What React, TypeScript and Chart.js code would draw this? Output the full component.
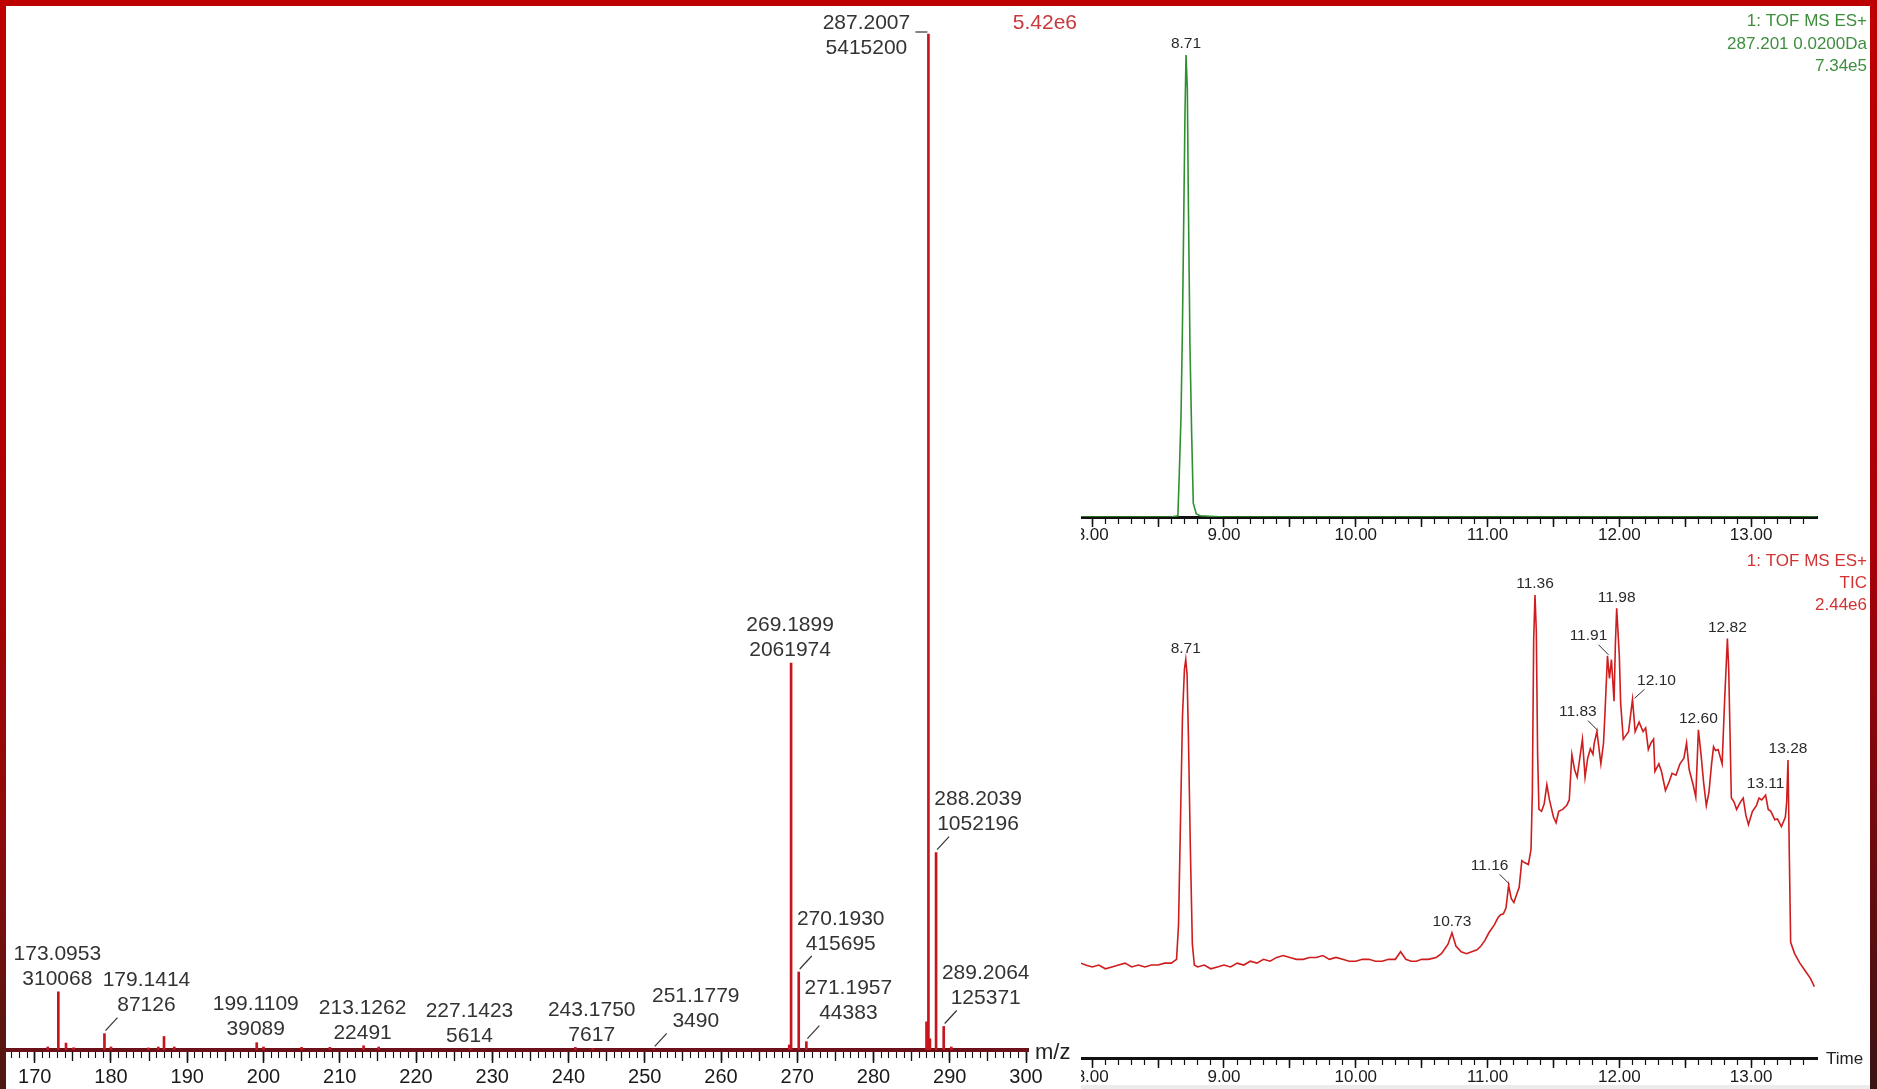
import React, { useEffect, useRef } from 'react';
import { Chart, registerables } from 'chart.js';

Chart.register(...registerables);

const FONT = '"Liberation Sans", Arial, Helvetica, sans-serif';

// ---------------- Mass spectrum (left panel) ----------------
const msLabeledMz = [173.0953, 179.1414, 199.1109, 213.1262, 227.1423, 243.175, 251.1779, 269.1899, 270.193, 271.1957, 287.2007, 288.2039, 289.2064];
const msLabeledIntensity = [310068, 87126, 39089, 22491, 5614, 7617, 3490, 2061974, 415695, 44383, 5415200, 1052196, 125371];
const msLabelPlacement = ['above', 'leader', 'above', 'above', 'above', 'above', 'leader', 'above', 'leader', 'leader', 'left', 'leader', 'leader'];
const msMinorMz = [171.7, 174.1, 175.1, 180.0, 184.9, 186.2, 186.95, 188.3, 200.0, 205.0, 208.7, 215.1, 240.9, 268.95, 286.95, 287.4, 290.2];
const msMinorIntensity = [16000, 37000, 12000, 16000, 11000, 16000, 72000, 16000, 16000, 14000, 14000, 16000, 14000, 27000, 150000, 60000, 16000];
const msMajorTicks = [170, 180, 190, 200, 210, 220, 230, 240, 250, 260, 270, 280, 290, 300];
const msMidTicks = Array.from({ length: 27 }, (_, i) => 170 + 5 * i);
const msMinorTicks = Array.from({ length: 134 }, (_, i) => 167 + i);
const msBasePeakText = '5.42e6';
const msAxisTitle = 'm/z';

// ---------------- Extracted ion chromatogram (top right) ----------------
const xicTime = [7.915, 8.3, 8.6, 8.65, 8.661, 8.674, 8.684, 8.691, 8.704, 8.712, 8.722, 8.729, 8.742, 8.755, 8.767, 8.79, 8.82, 9.0, 10.0, 11.0, 12.0, 13.0, 13.5];
const xicIntensity = [0, 0, 0, 2000, 70000, 160000, 290000, 410000, 640000, 734000, 680000, 515000, 270000, 130000, 22000, 5000, 2000, 0, 0, 0, 0, 0, 0];
const xicPeakTimes = [8.712];
const xicPeakLabels = ['8.71'];
const xicHeader = ['1: TOF MS ES+', '287.201 0.0200Da', '7.34e5'];

// ---------------- Total ion chromatogram (bottom right) ----------------
const ticTime = [
  7.915, 7.95, 8.0, 8.05, 8.1, 8.15, 8.2, 8.25, 8.3, 8.35, 8.4, 8.45, 8.5, 8.55, 8.6, 8.64, 8.655, 8.67, 8.685, 8.7,
  8.71, 8.72, 8.73, 8.745, 8.76, 8.775, 8.8, 8.85, 8.9, 8.95, 9.0, 9.05, 9.1, 9.15, 9.2, 9.25, 9.3, 9.35, 9.4, 9.45,
  9.5, 9.55, 9.6, 9.65, 9.7, 9.75, 9.8, 9.85, 9.9, 9.95, 10.0, 10.05, 10.1, 10.15, 10.2, 10.25, 10.3, 10.34, 10.38, 10.42,
  10.46, 10.5, 10.55, 10.61, 10.65, 10.68, 10.7, 10.73, 10.76, 10.8, 10.84, 10.88, 10.92, 10.95, 10.98, 11.01, 11.05, 11.08, 11.1, 11.12,
  11.14, 11.16, 11.18, 11.2, 11.22, 11.24, 11.26, 11.28, 11.31, 11.33, 11.34, 11.35, 11.36, 11.37, 11.38, 11.39, 11.41, 11.43, 11.45, 11.47,
  11.48, 11.5, 11.52, 11.54, 11.57, 11.6, 11.62, 11.64, 11.66, 11.68, 11.7, 11.72, 11.74, 11.76, 11.78, 11.8, 11.81, 11.83, 11.86, 11.88,
  11.89, 11.91, 11.925, 11.94, 11.96, 11.97, 11.98, 12.0, 12.01, 12.03, 12.05, 12.07, 12.1, 12.12, 12.15, 12.18, 12.2, 12.22, 12.24, 12.26,
  12.27, 12.3, 12.32, 12.35, 12.38, 12.4, 12.43, 12.46, 12.49, 12.51, 12.53, 12.56, 12.58, 12.6, 12.62, 12.64, 12.66, 12.68, 12.7, 12.715,
  12.73, 12.75, 12.78, 12.8, 12.82, 12.83, 12.85, 12.87, 12.89, 12.92, 12.94, 12.96, 12.98, 13.01, 13.04, 13.06, 13.08, 13.11, 13.13, 13.15,
  13.18, 13.2, 13.23, 13.26, 13.27, 13.28, 13.29, 13.3, 13.33, 13.37, 13.41, 13.45, 13.48,
];
const ticIntensityMillions = [
  0.50, 0.49, 0.48, 0.49, 0.47, 0.48, 0.49, 0.50, 0.48, 0.49, 0.48, 0.49, 0.49, 0.50, 0.50, 0.52, 0.70, 1.25, 1.80, 2.05,
  2.10, 2.02, 1.70, 1.10, 0.60, 0.49, 0.48, 0.49, 0.47, 0.48, 0.49, 0.48, 0.50, 0.49, 0.51, 0.50, 0.52, 0.51, 0.53, 0.54,
  0.53, 0.52, 0.52, 0.53, 0.53, 0.54, 0.52, 0.53, 0.52, 0.51, 0.51, 0.52, 0.52, 0.51, 0.51, 0.52, 0.52, 0.56, 0.52, 0.51,
  0.51, 0.52, 0.52, 0.53, 0.55, 0.58, 0.60, 0.66, 0.59, 0.56, 0.55, 0.56, 0.57, 0.59, 0.62, 0.66, 0.70, 0.74, 0.755, 0.76,
  0.79, 0.91, 0.84, 0.82, 0.86, 0.90, 1.04, 1.03, 1.02, 1.10, 1.40, 2.20, 2.44, 2.25, 1.60, 1.31, 1.30, 1.34, 1.44, 1.36,
  1.33, 1.27, 1.24, 1.30, 1.31, 1.33, 1.36, 1.60, 1.52, 1.48, 1.58, 1.68, 1.48, 1.58, 1.63, 1.60, 1.66, 1.72, 1.55, 1.66,
  1.80, 2.12, 2.00, 2.10, 1.88, 2.18, 2.37, 2.12, 1.87, 1.68, 1.70, 1.72, 1.89, 1.72, 1.77, 1.72, 1.74, 1.625, 1.66, 1.68,
  1.51, 1.55, 1.51, 1.41, 1.46, 1.50, 1.49, 1.55, 1.58, 1.66, 1.52, 1.44, 1.375, 1.73, 1.60, 1.45, 1.33, 1.40, 1.55, 1.64,
  1.62, 1.625, 1.55, 1.90, 2.21, 2.05, 1.37, 1.35, 1.31, 1.35, 1.37, 1.28, 1.23, 1.30, 1.33, 1.37, 1.36, 1.385, 1.31, 1.30,
  1.255, 1.26, 1.22, 1.27, 1.35, 1.57, 1.07, 0.61, 0.55, 0.50, 0.46, 0.42, 0.376,
];
const ticPeakTimes = [8.71, 10.73, 11.16, 11.36, 11.83, 11.91, 11.98, 12.1, 12.6, 12.82, 13.11, 13.28];
const ticPeakLabels = ['8.71', '10.73', '11.16', '11.36', '11.83', '11.91', '11.98', '12.10', '12.60', '12.82', '13.11', '13.28'];
const ticLabelPlacement = ['above', 'above', 'leaderLeft', 'above', 'leaderLeft', 'leaderLeft', 'above', 'leaderRight', 'above', 'above', 'above', 'above'];
const ticHeader = ['1: TOF MS ES+', 'TIC', '2.44e6'];

const timeMajorTicks = [8.0, 8.5, 9.0, 9.5, 10.0, 10.5, 11.0, 11.5, 12.0, 12.5, 13.0];
const timeMinorTicks = Array.from({ length: 55 }, (_, i) => +(8 + i * 0.1).toFixed(1));
const timeAxisTitle = 'Time';

// ---------------- geometry ----------------
const MS_W = 1081;
const MS_H = 1089;
const CH_LEFT = 1081;
const CH_CANVAS_SHIFT = 30;
const CH_WRAP_W = 789;
const CH_CANVAS_W = CH_WRAP_W + CH_CANVAS_SHIFT;
const XIC_H = 548;
const TIC_H = 541;

function tickOnlyAxis(min: number, max: number, values: number[], tickLength: number, tickWidth: number) {
  return {
    axis: 'x',
    type: 'linear',
    position: { y: 0 },
    min,
    max,
    offset: false,
    afterBuildTicks: (s: any) => {
      s.ticks = values.filter((v) => v >= min && v <= max).map((v) => ({ value: v }));
    },
    grid: { drawOnChartArea: false, drawTicks: true, tickLength, tickWidth, tickColor: '#111', offset: false },
    border: { display: false },
    ticks: { display: false },
  };
}

function drawText(ctx: CanvasRenderingContext2D, s: string, x: number, y: number) {
  ctx.fillText(s, x, y);
}
function drawSeg(ctx: CanvasRenderingContext2D, x1: number, y1: number, x2: number, y2: number) {
  ctx.beginPath();
  ctx.moveTo(x1, y1);
  ctx.lineTo(x2, y2);
  ctx.stroke();
}

function buildMsConfig(): any {
  const min = 166.23;
  const max = 300.26;
  const points = msLabeledMz
    .map((x, i) => ({ x, y: msLabeledIntensity[i] }))
    .concat(msMinorMz.map((x, i) => ({ x, y: msMinorIntensity[i] })));
  const labelPlugin = {
    id: 'msLabels',
    afterDraw(chart: any) {
      const ctx = chart.ctx as CanvasRenderingContext2D;
      const xs = chart.scales.x;
      const ys = chart.scales.y;
      const area = chart.chartArea;
      ctx.save();
      ctx.font = `21px ${FONT}`;
      ctx.fillStyle = '#333';
      ctx.strokeStyle = '#333';
      ctx.lineWidth = 1.2;
      ctx.textAlign = 'center';
      ctx.textBaseline = 'middle';
      msLabeledMz.forEach((mz, i) => {
        const px = xs.getPixelForValue(mz);
        const py = ys.getPixelForValue(msLabeledIntensity[i]);
        const t1 = mz.toFixed(4);
        const t2 = String(msLabeledIntensity[i]);
        const p = msLabelPlacement[i];
        if (p === 'above') {
          drawText(ctx, t1, px - 1, py - 38);
          drawText(ctx, t2, px - 1, py - 13);
        } else if (p === 'leader') {
          drawText(ctx, t1, px + 42, py - 53);
          drawText(ctx, t2, px + 42, py - 28);
          drawSeg(ctx, px + 1, py - 3, px + 13, py - 16);
        } else {
          drawText(ctx, t1, px - 62, py - 11);
          drawText(ctx, t2, px - 62, py + 14);
          drawSeg(ctx, px - 13, py - 2, px - 1, py - 2);
        }
      });
      ctx.fillStyle = '#c8383c';
      ctx.textAlign = 'right';
      drawText(ctx, msBasePeakText, chart.width - 4, 23);
      ctx.fillStyle = '#222';
      ctx.textAlign = 'left';
      ctx.font = `22px ${FONT}`;
      drawText(ctx, msAxisTitle, area.right + 7, area.bottom + 3);
      ctx.restore();
    },
  };
  return {
    type: 'bar',
    data: {
      datasets: [
        {
          data: points,
          backgroundColor: '#c8141c',
          borderWidth: 0,
          barThickness: 2,
          grouped: false,
        },
      ],
    },
    options: {
      responsive: false,
      maintainAspectRatio: false,
      animation: false,
      events: [],
      layout: { padding: { left: 6, right: MS_W - 1028, top: 20, bottom: 0 } },
      plugins: { legend: { display: false }, tooltip: { enabled: false } },
      scales: {
        x: {
          type: 'linear',
          position: 'bottom',
          min,
          max,
          offset: false,
          afterBuildTicks: (s: any) => {
            s.ticks = msMajorTicks.map((v) => ({ value: v }));
          },
          afterFit: (s: any) => {
            s.height = MS_H - 1050;
          },
          grid: { drawOnChartArea: false, drawTicks: true, tickLength: 13, tickWidth: 1.5, tickColor: '#111', offset: false },
          border: { display: true, color: '#6a1119', width: 4 },
          ticks: {
            autoSkip: false,
            maxRotation: 0,
            padding: 4,
            color: '#1a1a1a',
            font: { family: FONT, size: 20, lineHeight: 1 },
            callback: (v: any) => String(v),
          },
        },
        xMid: tickOnlyAxis(min, max, msMidTicks, 11, 1.3),
        xMinor: tickOnlyAxis(min, max, msMinorTicks, 8, 1.1),
        y: { display: false, min: 0, max: 5489800 },
      },
    },
    plugins: [labelPlugin],
  };
}

function buildChromConfig(opts: {
  times: number[];
  values: number[];
  yMax: number;
  color: string;
  textColor: string;
  canvasH: number;
  axisY: number;
  padTop: number;
  labelPad: number;
  peakTimes: number[];
  peakLabels: string[];
  placements: string[];
  header: string[];
  headerY: number[];
  showTime: boolean;
}): any {
  const min = 7.915;
  const max = 13.5;
  const points = opts.times.map((x, i) => ({ x, y: opts.values[i] }));
  const labelPlugin = {
    id: 'chromLabels',
    afterDraw(chart: any) {
      const ctx = chart.ctx as CanvasRenderingContext2D;
      const xs = chart.scales.x;
      const ys = chart.scales.y;
      const area = chart.chartArea;
      ctx.save();
      ctx.font = `15.5px ${FONT}`;
      ctx.fillStyle = '#2a2a2a';
      ctx.strokeStyle = '#2a2a2a';
      ctx.lineWidth = 1;
      ctx.textAlign = 'center';
      ctx.textBaseline = 'middle';
      opts.peakTimes.forEach((t, i) => {
        const idx = opts.times.indexOf(t);
        const v = opts.values[idx];
        const px = xs.getPixelForValue(t);
        const py = ys.getPixelForValue(v);
        const p = opts.placements[i];
        if (p === 'leaderLeft') {
          drawText(ctx, opts.peakLabels[i], px - 19, py - 20);
          drawSeg(ctx, px - 9, py - 11, px + 1, py - 1);
        } else if (p === 'leaderRight') {
          drawText(ctx, opts.peakLabels[i], px + 24, py - 19);
          drawSeg(ctx, px + 12, py - 10, px + 2, py - 1);
        } else {
          drawText(ctx, opts.peakLabels[i], px, py - 11);
        }
      });
      ctx.font = `17px ${FONT}`;
      ctx.fillStyle = opts.textColor;
      ctx.textAlign = 'right';
      opts.header.forEach((s, i) => drawText(ctx, s, chart.width - 3, opts.headerY[i]));
      if (opts.showTime) {
        ctx.fillStyle = '#222';
        ctx.textAlign = 'left';
        drawText(ctx, timeAxisTitle, area.right + 9, area.bottom + 1);
      }
      ctx.restore();
    },
  };
  return {
    type: 'line',
    data: {
      datasets: [
        {
          data: points,
          borderColor: opts.color,
          borderWidth: 1.6,
          pointRadius: 0,
          tension: 0,
          fill: false,
        },
      ],
    },
    options: {
      responsive: false,
      maintainAspectRatio: false,
      animation: false,
      events: [],
      layout: { padding: { left: CH_CANVAS_SHIFT, right: CH_CANVAS_W - 766, top: opts.padTop, bottom: 0 } },
      plugins: { legend: { display: false }, tooltip: { enabled: false } },
      scales: {
        x: {
          type: 'linear',
          position: 'bottom',
          min,
          max,
          offset: false,
          afterBuildTicks: (s: any) => {
            s.ticks = timeMajorTicks.map((v) => ({ value: v }));
          },
          afterFit: (s: any) => {
            s.height = opts.canvasH - opts.axisY;
          },
          grid: { drawOnChartArea: false, drawTicks: true, tickLength: 10, tickWidth: 1.5, tickColor: '#111' },
          border: { display: true, color: '#111', width: 3 },
          ticks: {
            autoSkip: false,
            maxRotation: 0,
            padding: opts.labelPad,
            color: '#1a1a1a',
            font: { family: FONT, size: 17, lineHeight: 1 },
            callback: (v: any) => (Number.isInteger(+v) ? (+v).toFixed(2) : ''),
          },
        },
        xMinor: tickOnlyAxis(min, max, timeMinorTicks, 7, 1.2),
        y: { display: false, min: 0, max: opts.yMax },
      },
    },
    plugins: [labelPlugin],
  };
}

function ChartCanvas({ width, height, build, style }: { width: number; height: number; build: () => any; style: React.CSSProperties }) {
  const ref = useRef<HTMLCanvasElement | null>(null);
  useEffect(() => {
    if (!ref.current) return;
    const chart = new Chart(ref.current, build());
    return () => chart.destroy();
  }, []);
  return <canvas ref={ref} width={width} height={height} style={{ position: 'absolute', width, height, ...style }} />;
}

export default function App() {
  return (
    <div style={{ position: 'fixed', left: 0, top: 0, width: 1877, height: 1089, background: '#fff', overflow: 'hidden' }}>
      <ChartCanvas width={MS_W} height={MS_H} build={buildMsConfig} style={{ left: 0, top: 0 }} />
      <div style={{ position: 'absolute', left: CH_LEFT, top: 0, width: CH_WRAP_W, height: XIC_H, overflow: 'hidden' }}>
        <ChartCanvas
          width={CH_CANVAS_W}
          height={XIC_H}
          style={{ left: -CH_CANVAS_SHIFT, top: 0 }}
          build={() =>
            buildChromConfig({
              times: xicTime,
              values: xicIntensity,
              yMax: 757800,
              color: '#2f902f',
              textColor: '#3e8e3e',
              canvasH: XIC_H,
              axisY: 517,
              padTop: 40,
              labelPad: 0,
              peakTimes: xicPeakTimes,
              peakLabels: xicPeakLabels,
              placements: ['above'],
              header: xicHeader,
              headerY: [21, 44, 66],
              showTime: false,
            })
          }
        />
      </div>
      <div style={{ position: 'absolute', left: CH_LEFT, top: XIC_H, width: CH_WRAP_W, height: TIC_H, overflow: 'hidden' }}>
        <ChartCanvas
          width={CH_CANVAS_W}
          height={TIC_H}
          style={{ left: -CH_CANVAS_SHIFT, top: 0 }}
          build={() =>
            buildChromConfig({
              times: ticTime,
              values: ticIntensityMillions,
              yMax: 2.519,
              color: '#cf1d1d',
              textColor: '#d03434',
              canvasH: TIC_H,
              axisY: 510,
              padTop: 32,
              labelPad: 1,
              peakTimes: ticPeakTimes,
              peakLabels: ticPeakLabels,
              placements: ticLabelPlacement,
              header: ticHeader,
              headerY: [13, 35, 57],
              showTime: true,
            })
          }
        />
      </div>
      <div style={{ position: 'absolute', left: CH_LEFT, top: 1085, width: CH_WRAP_W, height: 4, background: '#ececec' }} />
      <div style={{ position: 'absolute', left: 0, top: 0, width: 1877, height: 6, background: '#bd0000' }} />
      <div
        style={{
          position: 'absolute',
          left: 0,
          top: 0,
          width: 6,
          height: 1089,
          background: 'linear-gradient(to bottom, #c00000 0%, #b20000 40%, #900a0a 75%, #4e1812 100%)',
        }}
      />
      <div
        style={{
          position: 'absolute',
          left: 1870,
          top: 0,
          width: 7,
          height: 1089,
          background: 'linear-gradient(to bottom, #c00000 0%, #aa0008 50%, #3c1414 100%)',
        }}
      />
    </div>
  );
}
